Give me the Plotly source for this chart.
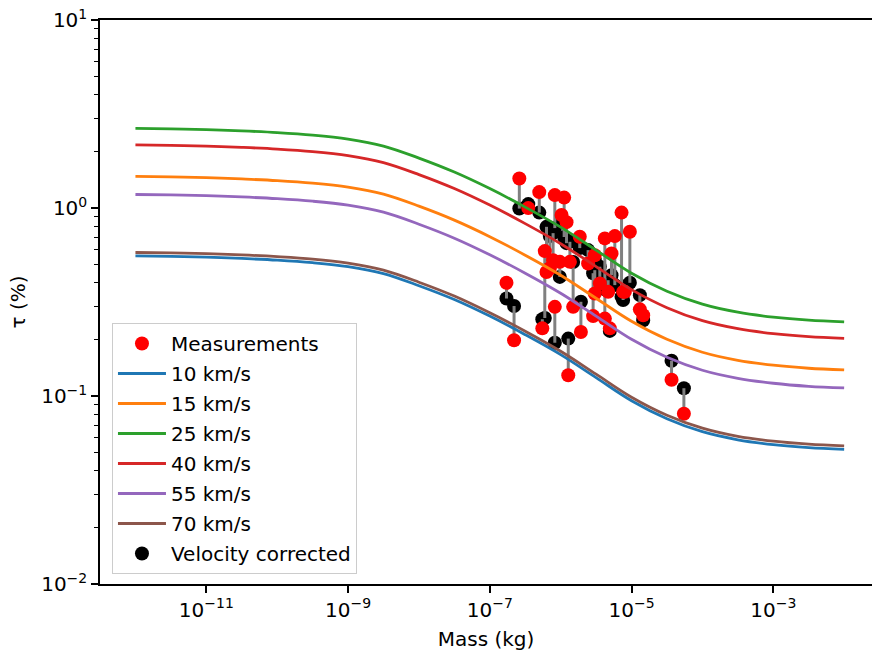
import plotly.graph_objects as go

# ---- data ----
mass = [1.72e-7, 2.20e-7, 2.61e-7, 3.49e-7, 4.99e-7, 5.97e-7, 5.51e-7, 6.31e-7, 7.03e-7,
        7.82e-7, 8.27e-7, 8.27e-7, 9.72e-7, 1.03e-6, 1.12e-6, 1.21e-6, 1.28e-6, 1.35e-6,
        1.50e-6, 1.86e-6, 1.93e-6, 2.44e-6, 2.87e-6, 3.03e-6, 3.03e-6, 3.57e-6, 4.20e-6,
        4.20e-6, 4.68e-6, 4.94e-6, 5.22e-6, 5.81e-6, 7.23e-6, 7.61e-6, 8.05e-6, 9.47e-6,
        1.31e-5, 1.46e-5, 3.67e-5, 5.48e-5]
tau_meas = [0.400, 0.198, 1.434, 0.999, 1.215, 0.590, 0.229, 0.457, 0.478,
            0.528, 1.171, 0.298, 0.517, 0.917, 1.136, 0.841, 0.129, 0.517,
            0.298, 0.703, 0.219, 0.507, 0.266, 0.561, 0.351, 0.397, 0.689,
            0.258, 0.358, 0.229, 0.573, 0.709, 0.945, 0.358, 0.358, 0.747,
            0.289, 0.269, 0.122, 0.0805]
tau_corr = [0.330, 0.301, 0.993, 1.049, 0.945, 0.260, 0.256, 0.794, 0.709,
            0.735, 0.782, 0.192, 0.430, 0.841, 0.701, 0.650, 0.202, 0.661,
            0.516, 0.612, 0.317, 0.597, 0.450, 0.528, 0.467, 0.487, 0.370,
            0.424, 0.413, 0.222, 0.439, 0.389, 0.337, 0.324, 0.384, 0.400,
            0.344, 0.253, 0.154, 0.110]

model_mass = [1e-12, 3.16e-12, 1e-11, 3.16e-11, 1e-10, 3.16e-10, 1e-9, 3.16e-9, 1e-8,
              3.16e-8, 1e-7, 3.16e-7, 1e-6, 3.16e-6, 1e-5, 3.16e-5, 1e-4, 3.16e-4,
              1e-3, 3.16e-3, 1e-2]
tau_10 = [0.556, 0.553, 0.548, 0.539, 0.528, 0.512, 0.488, 0.448, 0.386, 0.326, 0.266,
          0.2120, 0.166, 0.1252, 0.0944, 0.0757, 0.0646, 0.0585, 0.0551, 0.0531, 0.0520]
tau_15 = [1.472, 1.463, 1.450, 1.427, 1.398, 1.356, 1.291, 1.185, 1.023, 0.862, 0.704,
          0.561, 0.439, 0.331, 0.2498, 0.2004, 0.1709, 0.1548, 0.1458, 0.1405, 0.1376]
tau_25 = [2.652, 2.636, 2.613, 2.572, 2.519, 2.443, 2.326, 2.135, 1.843, 1.553, 1.268,
          1.011, 0.791, 0.597, 0.450, 0.361, 0.308, 0.279, 0.2627, 0.2531, 0.248]
tau_40 = [2.167, 2.154, 2.135, 2.101, 2.058, 1.996, 1.900, 1.744, 1.506, 1.269, 1.036,
          0.826, 0.646, 0.488, 0.368, 0.295, 0.2516, 0.228, 0.2146, 0.2068, 0.2026]
tau_55 = [1.180, 1.173, 1.163, 1.145, 1.121, 1.087, 1.035, 0.950, 0.820, 0.691, 0.564,
          0.450, 0.352, 0.266, 0.2003, 0.1606, 0.1371, 0.1242, 0.1169, 0.1126, 0.1104]
tau_70 = [0.580, 0.577, 0.572, 0.563, 0.551, 0.535, 0.509, 0.467, 0.403, 0.340, 0.277,
          0.2212, 0.173, 0.1306, 0.0985, 0.0790, 0.0674, 0.0610, 0.0575, 0.0554, 0.0543]

curves = [("10 km/s", tau_10, "#1f77b4"), ("15 km/s", tau_15, "#ff7f0e"),
          ("25 km/s", tau_25, "#2ca02c"), ("40 km/s", tau_40, "#d62728"),
          ("55 km/s", tau_55, "#9467bd"), ("70 km/s", tau_70, "#8c564b")]

x_ticks = [1e-11, 1e-9, 1e-7, 1e-5, 1e-3]
x_ticktext = ["10<sup>\u221211</sup>", "10<sup>\u22129</sup>", "10<sup>\u22127</sup>",
              "10<sup>\u22125</sup>", "10<sup>\u22123</sup>"]
y_ticks = [1e-2, 1e-1, 1, 10]
y_ticktext = ["10<sup>\u22122</sup>", "10<sup>\u22121</sup>", "10<sup>0</sup>", "10<sup>1</sup>"]
y_minor = [m * 10 ** e for e in (-2, -1, 0) for m in range(2, 10)]

FONT = "DejaVu Sans"
FS = 20
fig = go.Figure()

# velocity corrected (bottom)
fig.add_trace(go.Scatter(x=mass, y=tau_corr, mode="markers", name="Velocity corrected",
                         marker=dict(color="black", size=14), legendrank=8,
                         legendgroup="g8"))
# connecting stems
sx, sy = [], []
for m, a, b in zip(mass, tau_meas, tau_corr):
    sx += [m, m, None]
    sy += [a, b, None]
fig.add_trace(go.Scatter(x=sx, y=sy, mode="lines", line=dict(color="gray", width=3),
                         showlegend=False, hoverinfo="skip"))
# measurements
fig.add_trace(go.Scatter(x=mass, y=tau_meas, mode="markers", name="Measurements",
                         marker=dict(color="red", size=14), legendrank=1,
                         legendgroup="g1"))
for i, (nm, vals, col) in enumerate(curves):
    fig.add_trace(go.Scatter(x=model_mass, y=vals, mode="lines", name=nm,
                             line=dict(color=col, width=2.8, shape="spline", smoothing=1.0),
                             legendrank=2 + i, legendgroup="c%d" % i))

fig.update_layout(
    width=872, height=654,
    margin=dict(l=100, r=0, t=20, b=70),
    paper_bgcolor="white", plot_bgcolor="white",
    font=dict(family=FONT, size=FS, color="black"),
    showlegend=True,
    legend=dict(x=0.0155, y=0.0177, xanchor="left", yanchor="bottom",
                bgcolor="rgba(255,255,255,0.8)", bordercolor="#cccccc", borderwidth=1,
                font=dict(family=FONT, size=FS), tracegroupgap=1, itemwidth=48),
)
fig.update_xaxes(type="log", range=[-12.5, -1.607], showgrid=False, zeroline=False,
                 showline=True, linecolor="black", linewidth=1.5, mirror=True,
                 ticks="outside", ticklen=7, tickwidth=1.5, tickcolor="black",
                 tickmode="array", tickvals=x_ticks, ticktext=x_ticktext,
                 tickfont=dict(family=FONT, size=FS),
                 title=dict(text="Mass (kg)", font=dict(family=FONT, size=FS), standoff=11))
fig.update_yaxes(type="log", range=[-2, 1], showgrid=False, zeroline=False,
                 showline=True, linecolor="black", linewidth=1.5, mirror=False,
                 ticks="outside", ticklen=7, tickwidth=1.5, tickcolor="black",
                 tickmode="array", tickvals=y_ticks, ticktext=y_ticktext,
                 tickfont=dict(family=FONT, size=FS),
                 minor=dict(ticks="outside", ticklen=4, tickwidth=1.2, tickcolor="black",
                            tickmode="array", tickvals=y_minor, showgrid=False),
                 title=dict(text="\u03c4 (%)", font=dict(family=FONT, size=FS), standoff=10))

fig.write_html("out.html")
